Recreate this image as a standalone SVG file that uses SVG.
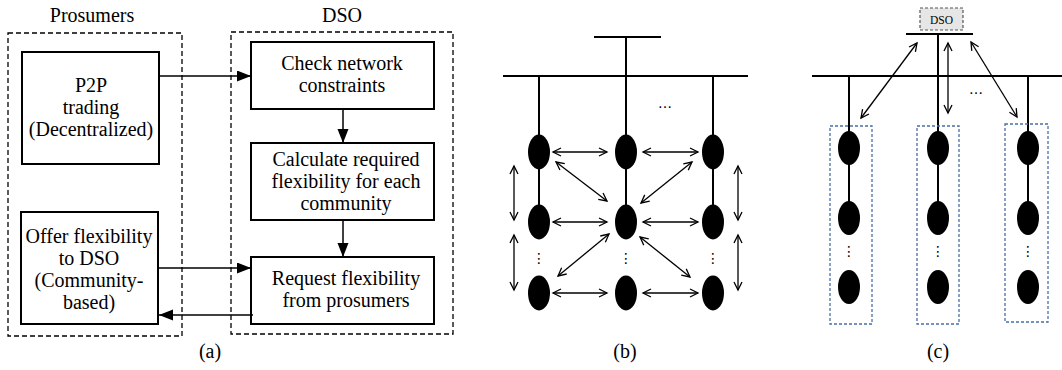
<svg xmlns="http://www.w3.org/2000/svg" width="1062" height="370" viewBox="0 0 1062 370">
<style>
text{font-family:"Liberation Serif","Times New Roman",serif;fill:#000}
.t{font-size:20px;text-anchor:middle}
.box{fill:#fff;stroke:#000;stroke-width:2}
.dash{fill:none;stroke:#000;stroke-width:1.3;stroke-dasharray:5,3}
.conn{stroke:#000;stroke-width:1.5;fill:none}
.bus{stroke:#000;stroke-width:2;fill:none}
.dbl{stroke:#000;stroke-width:1.3;fill:none;marker-start:url(#open);marker-end:url(#open)}
.node{fill:#000}
.grp{fill:none;stroke:#4a6ea8;stroke-width:1.3;stroke-dasharray:3,2}
.dots{font-family:"DejaVu Sans",sans-serif;font-size:14px;text-anchor:middle}
</style>
<defs>
<marker id="tri" markerUnits="userSpaceOnUse" markerWidth="15" markerHeight="12" refX="14" refY="5.5" orient="auto">
<path d="M0,0 L14,5.5 L0,11 z" fill="#000"/>
</marker>
<marker id="open" markerUnits="userSpaceOnUse" markerWidth="12" markerHeight="12" refX="9" refY="5" orient="auto-start-reverse">
<path d="M1,1 L9,5 L1,9" fill="none" stroke="#000" stroke-width="1.3"/>
</marker>
</defs>

<!-- Panel (a) -->
<g id="prosumers-group">
<text class="t" x="92" y="22">Prosumers</text>
<rect class="dash" x="8" y="33" width="174" height="303"/>
</g>
<g id="dso-group">
<text class="t" x="342" y="22">DSO</text>
<rect class="dash" x="231" y="32" width="222" height="302"/>
</g>
<g id="p2p">
<rect class="box" x="22" y="52" width="137" height="112"/>
<text class="t" x="91" y="92">P2P</text>
<text class="t" x="91" y="114">trading</text>
<text class="t" x="91" y="136">(Decentralized)</text>
</g>
<g id="offer">
<rect class="box" x="21" y="212" width="137" height="112"/>
<text class="t" x="89" y="243">Offer flexibility</text>
<text class="t" x="89" y="265">to DSO</text>
<text class="t" x="89" y="287">(Community-</text>
<text class="t" x="89" y="309">based)</text>
</g>
<g id="check">
<rect class="box" x="251" y="42" width="183" height="67"/>
<text class="t" x="342" y="70">Check network</text>
<text class="t" x="342" y="92">constraints</text>
</g>
<g id="calculate">
<rect class="box" x="251" y="143" width="183" height="77"/>
<text class="t" x="346" y="166">Calculate required</text>
<text class="t" x="346" y="188">flexibility for each</text>
<text class="t" x="346" y="210">community</text>
</g>
<g id="request">
<rect class="box" x="251" y="257" width="183" height="67"/>
<text class="t" x="346" y="285">Request flexibility</text>
<text class="t" x="346" y="307">from prosumers</text>
</g>
<g id="connectors-a">
<line class="conn" x1="159" y1="76" x2="251" y2="76" marker-end="url(#tri)"/>
<line class="conn" x1="343" y1="109" x2="343" y2="143" marker-end="url(#tri)"/>
<line class="conn" x1="343" y1="220" x2="343" y2="257" marker-end="url(#tri)"/>
<line class="conn" x1="158" y1="268" x2="251" y2="268" marker-end="url(#tri)"/>
<line class="conn" x1="253" y1="315" x2="159" y2="315" marker-end="url(#tri)"/>
</g>
<text class="t" x="210" y="358">(a)</text>

<!-- Panel (b) -->
<g id="grid-b">
<line class="bus" x1="594" y1="37" x2="661" y2="37"/>
<line class="bus" x1="626" y1="37" x2="626" y2="76"/>
<line class="bus" x1="503" y1="76" x2="748" y2="76"/>
<line class="bus" x1="539" y1="76" x2="539" y2="222"/>
<line class="bus" x1="626" y1="76" x2="626" y2="222"/>
<line class="bus" x1="713" y1="76" x2="713" y2="222"/>
<text class="dots" x="665" y="108">…</text>
</g>
<g id="b-nodes">
<ellipse class="node" cx="539" cy="152" rx="11" ry="17.5"/>
<ellipse class="node" cx="626" cy="152" rx="11" ry="17.5"/>
<ellipse class="node" cx="713" cy="152" rx="11" ry="17.5"/>
<ellipse class="node" cx="539" cy="222" rx="11" ry="17.5"/>
<ellipse class="node" cx="626" cy="222" rx="11" ry="17.5"/>
<ellipse class="node" cx="713" cy="222" rx="11" ry="17.5"/>
<ellipse class="node" cx="539" cy="293" rx="11" ry="17.5"/>
<ellipse class="node" cx="626" cy="293" rx="11" ry="17.5"/>
<ellipse class="node" cx="713" cy="293" rx="11" ry="17.5"/>
<text class="dots" x="539" y="263">⋮</text>
<text class="dots" x="626" y="263">⋮</text>
<text class="dots" x="713" y="263">⋮</text>
</g>
<g id="connectors-b">
<line class="dbl" x1="553" y1="152" x2="607" y2="152"/>
<line class="dbl" x1="643" y1="152" x2="698" y2="152"/>
<line class="dbl" x1="553" y1="222" x2="607" y2="222"/>
<line class="dbl" x1="643" y1="222" x2="698" y2="222"/>
<line class="dbl" x1="553" y1="293" x2="607" y2="293"/>
<line class="dbl" x1="643" y1="293" x2="698" y2="293"/>
<line class="dbl" x1="556" y1="162" x2="607" y2="201"/>
<line class="dbl" x1="692" y1="162" x2="641" y2="203"/>
<line class="dbl" x1="609" y1="234" x2="558" y2="276"/>
<line class="dbl" x1="640" y1="237" x2="690" y2="277"/>
<line class="dbl" x1="514" y1="166" x2="514" y2="220"/>
<line class="dbl" x1="514" y1="235" x2="514" y2="290"/>
<line class="dbl" x1="738" y1="166" x2="738" y2="220"/>
<line class="dbl" x1="738" y1="235" x2="738" y2="290"/>
</g>
<text class="t" x="625" y="358">(b)</text>

<!-- Panel (c) -->
<g id="dso-c">
<rect x="920" y="8" width="43" height="22" fill="#e6e6e6" stroke="#555" stroke-width="1.2" stroke-dasharray="3,2"/>
<text x="941.5" y="23.5" font-size="11.5" text-anchor="middle">DSO</text>
</g>
<g id="grid-c">
<line class="bus" x1="906" y1="34" x2="973" y2="34"/>
<line class="bus" x1="812" y1="76" x2="1062" y2="76"/>
<line class="bus" x1="938" y1="34" x2="938" y2="218"/>
<line class="bus" x1="849" y1="76" x2="849" y2="218"/>
<line class="bus" x1="1028" y1="76" x2="1028" y2="218"/>
<text class="dots" x="976" y="94">…</text>
</g>
<g id="community-1">
<rect class="grp" x="830" y="126" width="42" height="198"/>
<ellipse class="node" cx="849" cy="148" rx="11" ry="17"/>
<ellipse class="node" cx="849" cy="218" rx="11" ry="17"/>
<ellipse class="node" cx="849" cy="287" rx="11" ry="17"/>
<text class="dots" x="849" y="256">⋮</text>
</g>
<g id="community-2">
<rect class="grp" x="917" y="126" width="42" height="198"/>
<ellipse class="node" cx="938" cy="148" rx="11" ry="17"/>
<ellipse class="node" cx="938" cy="218" rx="11" ry="17"/>
<ellipse class="node" cx="938" cy="287" rx="11" ry="17"/>
<text class="dots" x="938" y="256">⋮</text>
</g>
<g id="community-3">
<rect class="grp" x="1005" y="124" width="43" height="198"/>
<ellipse class="node" cx="1028" cy="148" rx="11" ry="17"/>
<ellipse class="node" cx="1028" cy="218" rx="11" ry="17"/>
<ellipse class="node" cx="1028" cy="287" rx="11" ry="17"/>
<text class="dots" x="1028" y="256">⋮</text>
</g>
<g id="connectors-c">
<line class="dbl" x1="917" y1="43" x2="861" y2="118"/>
<line class="dbl" x1="948" y1="43" x2="948" y2="113"/>
<line class="dbl" x1="971" y1="42" x2="1017" y2="117"/>
</g>
<text class="t" x="938" y="358">(c)</text>
</svg>
